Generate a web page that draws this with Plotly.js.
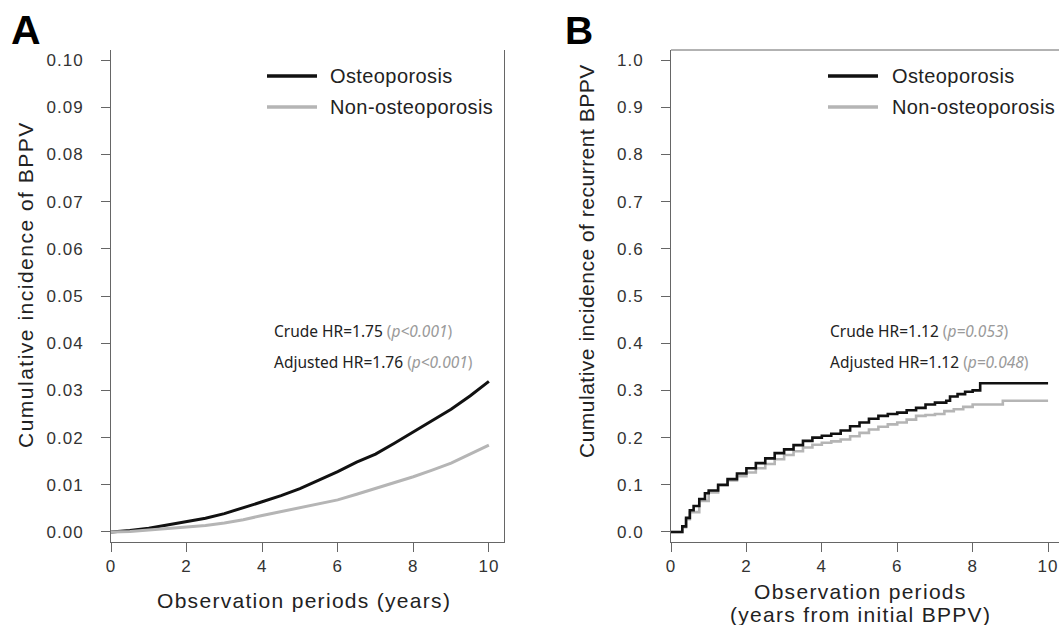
<!DOCTYPE html>
<html>
<head>
<meta charset="utf-8">
<script src="https://cdn.plot.ly/plotly-3.0.1.min.js"></script>
<style>html,body{margin:0;padding:0;background:#fff;}#chart{width:1059px;height:625px;}</style>
</head>
<body>
<div id="chart"></div>
<script>
// ---------- Data ----------
// Panel A: cumulative incidence of BPPV
const timeA = [0,0.5,1,1.5,2,2.5,3,3.5,4,4.5,5,5.5,6,6.5,7,7.5,8,8.5,9,9.5,10];
const osteoA = [0,0.0003,0.0008,0.0015,0.0021,0.0029,0.0039,0.0051,0.0064,0.0077,0.0092,0.0110,0.0128,0.0148,0.0165,0.0188,0.0212,0.0235,0.0260,0.0288,0.0319];
const nonOsteoA = [0,0.0001,0.0004,0.0007,0.0010,0.0014,0.0019,0.0026,0.0035,0.0043,0.0051,0.0060,0.0068,0.0080,0.0092,0.0104,0.0117,0.0131,0.0146,0.0165,0.0184];

// Panel B: cumulative incidence of recurrent BPPV (step functions)
const timeB1 = [0,0.25,0.3,0.4,0.5,0.6,0.75,0.9,1.0,1.25,1.5,1.75,2.0,2.25,2.5,2.75,3.0,3.25,3.5,3.75,4.0,4.25,4.5,4.75,5.0,5.25,5.5,5.75,6.0,6.25,6.5,6.75,7.0,7.3,7.4,7.6,7.8,8.0,8.2,10];
const osteoB = [0,0,0.012,0.030,0.046,0.055,0.070,0.082,0.088,0.100,0.112,0.124,0.135,0.146,0.156,0.167,0.175,0.184,0.193,0.200,0.204,0.208,0.215,0.224,0.232,0.240,0.246,0.250,0.253,0.258,0.263,0.270,0.274,0.278,0.287,0.292,0.297,0.300,0.315,0.315];
const timeB2 = [0,0.25,0.3,0.4,0.5,0.75,1.0,1.25,1.5,1.75,2.0,2.25,2.5,2.75,3.0,3.25,3.5,3.75,4.0,4.25,4.5,4.75,5.0,5.25,5.5,5.75,6.0,6.25,6.5,6.75,7.0,7.25,7.5,7.75,8.0,8.8,10];
const nonOsteoB = [0,0,0.010,0.027,0.042,0.066,0.084,0.098,0.109,0.118,0.126,0.135,0.144,0.154,0.163,0.171,0.179,0.185,0.189,0.192,0.196,0.203,0.210,0.217,0.223,0.228,0.232,0.238,0.246,0.248,0.250,0.256,0.260,0.265,0.270,0.278,0.278];

const seriesNames = ["Osteoporosis","Non-osteoporosis"];
const xTicks = [0,2,4,6,8,10];
const yTicksA = [0,0.01,0.02,0.03,0.04,0.05,0.06,0.07,0.08,0.09,0.10];
const yTickTextA = ["0.00","0.01","0.02","0.03","0.04","0.05","0.06","0.07","0.08","0.09","0.10"];
const yTicksB = [0,0.1,0.2,0.3,0.4,0.5,0.6,0.7,0.8,0.9,1.0];
const yTickTextB = ["0.0","0.1","0.2","0.3","0.4","0.5","0.6","0.7","0.8","0.9","1.0"];
const statsA = [["Crude HR=1.75","p&lt;0.001"],["Adjusted HR=1.76","p&lt;0.001"]];
const statsB = [["Crude HR=1.12","p=0.053"],["Adjusted HR=1.12","p=0.048"]];

// ---------- Styling ----------
const W = 1059, H = 625;
const px = x => x / W;
const py = y => 1 - y / H;
const BLACK = "#111111", GREY = "#b5b5b5", AXC = "#666666";
const FONT = "Liberation Sans, Arial, sans-serif";
const sp = (t, s) => `<span style="letter-spacing:${s}px">${t}</span>`;
// y tick label: letter-spaced, with extra trailing gap so it sits further from the tick
const yLab = t => sp(t.slice(0, -1), 1) + `<span style="letter-spacing:15px">${t.slice(-1)}</span>`;

const tickFont = {family: FONT, size: 17, color: "#333"};

function xAxis(domain, range) {
  return {domain, range, tickvals: xTicks, ticktext: xTicks.map(v => sp(String(v), 1)),
    ticks: "outside", ticklen: 9, tickcolor: AXC, tickwidth: 1,
    showline: true, linecolor: AXC, linewidth: 1, showgrid: false, zeroline: false,
    tickfont: tickFont, fixedrange: true};
}
function yAxis(domain, range, vals, text, anchor, mirror) {
  return {domain, range, tickvals: vals, ticktext: text.map(yLab), anchor,
    ticks: "outside", ticklen: 9, tickcolor: AXC, tickwidth: 1,
    showline: true, linecolor: AXC, linewidth: 1, mirror: mirror, showgrid: false, zeroline: false,
    tickfont: tickFont, fixedrange: true};
}

const traces = [
  {x: timeA, y: osteoA, name: seriesNames[0], mode: "lines", line: {color: BLACK, width: 3}, xaxis: "x", yaxis: "y", showlegend: false},
  {x: timeA, y: nonOsteoA, name: seriesNames[1], mode: "lines", line: {color: GREY, width: 3}, xaxis: "x", yaxis: "y", showlegend: false},
  {x: timeB2, y: nonOsteoB, name: seriesNames[1], mode: "lines", line: {color: GREY, width: 2.6, shape: "hv"}, xaxis: "x2", yaxis: "y2", showlegend: false},
  {x: timeB1, y: osteoB, name: seriesNames[0], mode: "lines", line: {color: BLACK, width: 2.6, shape: "hv"}, xaxis: "x2", yaxis: "y2", showlegend: false}
];

const yDom = [py(542), py(50)];
const layout = {
  width: W, height: H, margin: {l: 0, r: 0, t: 0, b: 0},
  paper_bgcolor: "#fff", plot_bgcolor: "#fff", showlegend: false,
  xaxis: xAxis([px(111), px(504)], [0, 10.4]),
  yaxis: yAxis(yDom, [-0.00212, 0.10212], yTicksA, yTickTextA, "x", true),
  xaxis2: xAxis([px(671), 1], [0, 10.29]),
  yaxis2: yAxis(yDom, [-0.0212, 1.0212], yTicksB, yTickTextB, "x2", false),
  shapes: [
    // top border of panel B (right side is cut off in the reference)
    {type: "line", xref: "paper", yref: "paper", x0: px(671), x1: 1, y0: py(50), y1: py(50), line: {color: AXC, width: 1}},
    // legend samples
    {type: "line", xref: "paper", yref: "paper", x0: px(267), x1: px(317), y0: py(76), y1: py(76), line: {color: BLACK, width: 3.5}},
    {type: "line", xref: "paper", yref: "paper", x0: px(267), x1: px(317), y0: py(107), y1: py(107), line: {color: GREY, width: 3.5}},
    {type: "line", xref: "paper", yref: "paper", x0: px(828), x1: px(878), y0: py(76), y1: py(76), line: {color: BLACK, width: 3.5}},
    {type: "line", xref: "paper", yref: "paper", x0: px(828), x1: px(878), y0: py(107), y1: py(107), line: {color: GREY, width: 3.5}}
  ],
  annotations: []
};

const ann = layout.annotations;
function addText(text, x, y, opts) {
  ann.push(Object.assign({text, xref: "paper", yref: "paper", x: px(x), y: py(y), showarrow: false,
    xanchor: "left", yanchor: "middle", font: {family: FONT, size: 20, color: "#222"}}, opts || {}));
}
// panel letters
addText("<b>A</b>", 26, 30, {xanchor: "center", font: {family: FONT, size: 41, color: "#000"}});
addText("<b>B</b>", 579, 31, {xanchor: "center", font: {family: FONT, size: 39, color: "#000"}});
// axis titles
const TITLEF = {family: FONT, size: 21, color: "#222"};
addText(sp("Cumulative incidence of BPPV", 1.5), 25, 285, {xanchor: "center", textangle: -90, font: TITLEF});
addText(sp("Cumulative incidence of recurrent BPPV", 0.5), 586, 261, {xanchor: "center", textangle: -90, font: TITLEF});
addText(sp("Observation periods (years)", 1.3), 304, 600, {xanchor: "center", font: TITLEF});
addText(sp("Observation periods", 1.3), 860, 591, {xanchor: "center", font: TITLEF});
addText(sp("(years from initial BPPV)", 1.3), 860, 614, {xanchor: "center", font: TITLEF});
// legends
addText(sp(seriesNames[0], 0.4), 328, 76);
addText(sp(seriesNames[1], 0.4), 328, 107);
addText(sp(seriesNames[0], 0.4), 890, 76);
addText(sp(seriesNames[1], 0.4), 890, 107);
// HR statistics
const STATF = {family: "Noto Sans, Open Sans, sans-serif", size: 15.5, color: "#222"};
const stat = s => `${s[0]} <span style="color:#9a9a9a">(<i>${s[1]}</i>)</span>`;
addText(stat(statsA[0]), 272, 331, {font: STATF});
addText(stat(statsA[1]), 272, 362, {font: STATF});
addText(stat(statsB[0]), 828, 331, {font: STATF});
addText(stat(statsB[1]), 828, 362, {font: STATF});

Plotly.newPlot("chart", traces, layout, {staticPlot: true, displayModeBar: false});
</script>
</body>
</html>
